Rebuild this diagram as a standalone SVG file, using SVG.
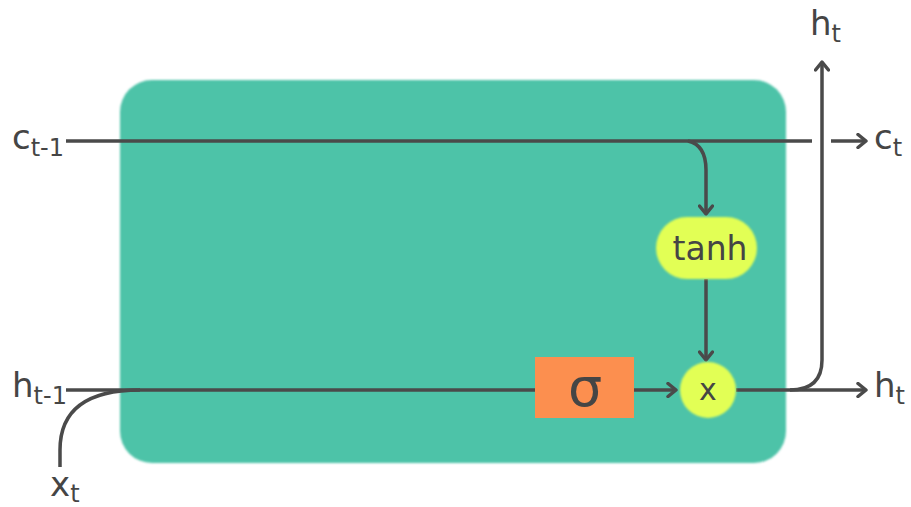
<svg xmlns="http://www.w3.org/2000/svg" width="911" height="507" viewBox="0 0 911 507">
  <style>
    .lbl { font-family: "DejaVu Sans", "Liberation Sans", sans-serif; font-size: 34px; fill: #454545; }
    .sub { font-size: 24px; }
    .wire { fill: none; stroke: #4a4a4a; stroke-width: 3.5; }
    .node-text { font-family: "DejaVu Sans", "Liberation Sans", sans-serif; fill: #454545; text-anchor: middle; }
  </style>
  <defs>
    <marker id="arrow" viewBox="0 0 12 16" refX="10" refY="8" markerWidth="12" markerHeight="16" markerUnits="userSpaceOnUse" orient="auto">
      <path d="M2,1.5 L10,8 L2,14.5" fill="none" stroke="#4a4a4a" stroke-width="3.5" stroke-linecap="round" stroke-linejoin="round"/>
    </marker>
    <filter id="soft" x="-5%" y="-5%" width="110%" height="110%">
      <feGaussianBlur stdDeviation="1.2"/>
    </filter>
  </defs>

  <!-- cell body -->
  <g id="cell">
    <rect x="120" y="80" width="666" height="383" rx="32" fill="#4dc3a8" filter="url(#soft)"/>
  </g>

  <!-- connectors -->
  <g id="connectors">
    <!-- cell state line c(t-1) -> c(t) -->
    <path class="wire" d="M66,141 L812,141"/>
    <path class="wire" d="M831,141 L866,141" marker-end="url(#arrow)"/>
    <!-- branch from cell state down to tanh -->
    <path class="wire" d="M688,141 Q706,145 706,170 L706,214" marker-end="url(#arrow)"/>
    <!-- tanh -> multiply -->
    <path class="wire" d="M706,279 L706,360" marker-end="url(#arrow)"/>
    <!-- hidden state input line -->
    <path class="wire" d="M66,390 L535,390"/>
    <!-- x(t) joining the input line -->
    <path class="wire" d="M60,467 L60,450 Q60,390 140,390"/>
    <!-- sigma -> multiply -->
    <path class="wire" d="M634,390 L676,390" marker-end="url(#arrow)"/>
    <!-- multiply -> h(t) -->
    <path class="wire" d="M736,390 L866,390" marker-end="url(#arrow)"/>
    <!-- h(t) branching upward -->
    <path class="wire" d="M790,390 Q822,390 822,360 L822,62" marker-end="url(#arrow)"/>
  </g>

  <!-- sigmoid gate -->
  <g id="sigma">
    <rect x="535" y="357" width="99" height="61" fill="#fc8f4f"/>
    <text class="node-text" x="585" y="406" font-size="54">σ</text>
  </g>

  <!-- tanh activation -->
  <g id="tanh">
    <rect x="656" y="217" width="101" height="62" rx="31" fill="#e2ff55" filter="url(#soft)"/>
    <text class="node-text" x="710" y="260" font-size="33">tanh</text>
  </g>

  <!-- pointwise multiply -->
  <g id="multiply">
    <circle cx="708" cy="390" r="28" fill="#e2ff55" filter="url(#soft)"/>
    <text class="node-text" x="708" y="400" font-size="30">x</text>
  </g>

  <!-- labels -->
  <g id="labels">
    <text class="lbl" x="12" y="149">c<tspan class="sub" dy="7">t-1</tspan></text>
    <text class="lbl" x="12" y="397">h<tspan class="sub" dy="7">t-1</tspan></text>
    <text class="lbl" x="50" y="496">x<tspan class="sub" dy="6">t</tspan></text>
    <text class="lbl" x="874" y="149">c<tspan class="sub" dy="7">t</tspan></text>
    <text class="lbl" x="874" y="397">h<tspan class="sub" dy="7">t</tspan></text>
    <text class="lbl" x="810" y="35">h<tspan class="sub" dy="7">t</tspan></text>
  </g>
</svg>
